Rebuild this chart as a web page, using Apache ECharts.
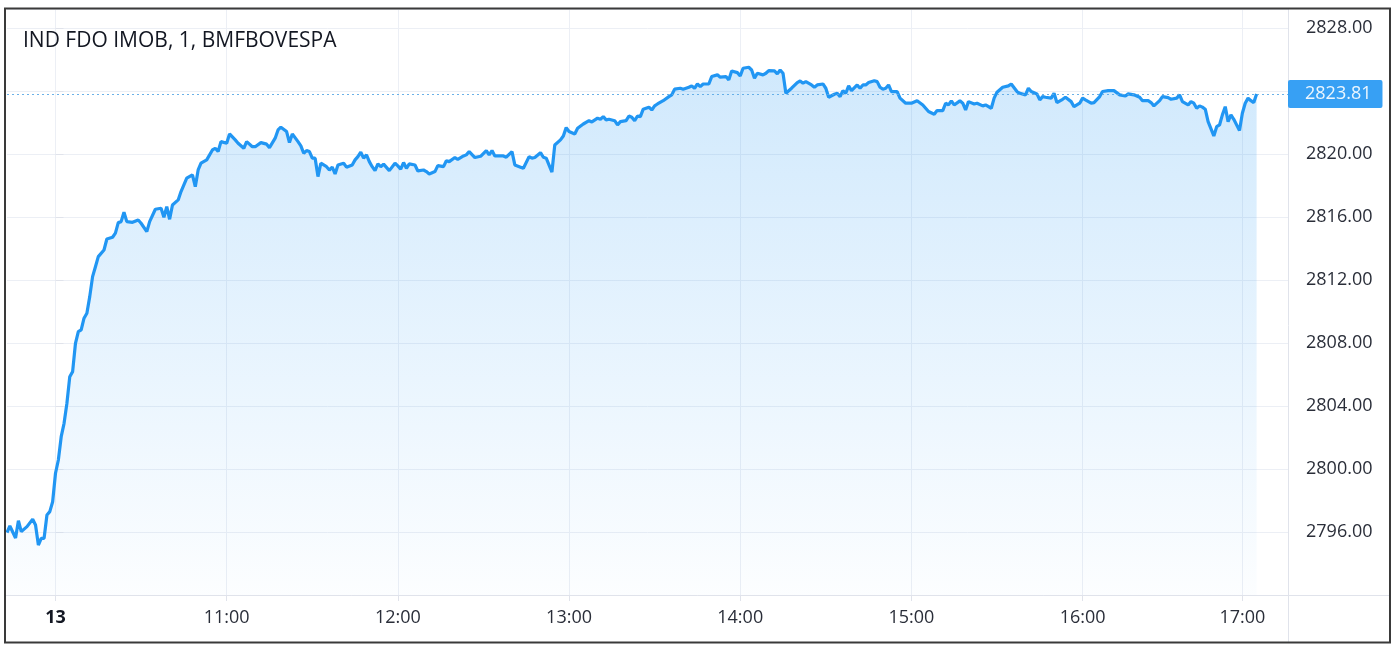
<!DOCTYPE html>
<html>
<head>
<meta charset="utf-8">
<style>
html,body{margin:0;padding:0;background:#fff;}
#chart{width:1395px;height:649px;}
</style>
<script src="https://cdn.jsdelivr.net/npm/echarts@6/dist/echarts.min.js"></script>
</head>
<body>
<div id="chart"></div>
<script>
const chartTitle = 'IND FDO IMOB, 1, BMFBOVESPA';

// x = minute bar index (0 = 10:00 on the 13th)
const xTickBars = [0, 60, 120, 180, 240, 300, 360, 416];
const xTickLabels = ['13', '11:00', '12:00', '13:00', '14:00', '15:00', '16:00', '17:00'];

const barIndex = [
-17,-16,-14,-13,-12,-10,-8,-7,-6,-5,-4,-3,-2,-1,
0,1,2,3,4,5,6,7,8,9,10,11,12,13,14,15,17,18,20,21,22,23,24,25,27,29,30,32,33,35,37,38,39,40,41,43,44,46,48,49,
50,51,53,55,56,57,58,60,61,63,64,66,67,69,70,72,74,75,77,78,79,81,82,83,85,86,87,88,89,90,91,92,93,95,96,97,98,99,
101,102,104,105,106,107,108,109,110,111,112,113,114,115,117,119,120,121,122,123,124,126,127,129,130,131,133,134,136,137,138,140,141,143,144,145,147,149,
151,152,153,154,157,158,160,161,163,164,166,167,168,170,171,172,174,175,177,178,179,180,182,183,185,187,188,190,191,192,193,194,196,197,198,
200,201,202,203,204,205,206,208,209,210,211,213,215,216,217,219,220,222,223,224,225,226,227,229,230,232,233,235,236,237,239,240,241,243,244,245,246,248,249,
250,252,253,254,255,256,258,260,261,262,263,265,266,267,269,270,271,273,274,275,276,277,278,279,281,282,283,284,285,287,288,289,290,291,292,293,295,296,298,
300,302,304,305,306,308,309,311,312,313,314,315,317,318,319,320,322,323,325,326,328,329,330,332,334,335,337,338,340,341,342,344,345,346,347,349,
350,351,353,354,356,357,359,360,361,363,364,366,367,369,371,373,375,376,378,380,381,383,384,385,387,388,390,391,393,394,395,397,398,399,
400,401,402,403,404,406,407,408,409,410,411,412,413,415,416,417,418,419,420,421
];

const closeValues = [
2795.96,2796.38,2795.62,2796.72,2796.02,2796.34,2796.81,2796.44,2795.17,2795.60,2795.60,2797.08,2797.29,2797.92,
2799.73,2800.57,2802.05,2802.90,2804.17,2805.86,2806.18,2807.98,2808.72,2808.83,2809.57,2809.89,2810.94,2812.21,2812.84,2813.48,2813.90,2814.60,2814.71,2814.97,2815.64,2815.70,2816.30,2815.70,2815.66,2815.81,2815.60,2815.07,2815.70,2816.49,2816.55,2815.98,2816.65,2815.85,2816.76,2817.08,2817.61,2818.46,2818.67,2817.92,
2818.98,2819.41,2819.62,2820.25,2820.36,2820.15,2820.78,2820.68,2821.27,2820.89,2820.68,2820.36,2820.78,2820.46,2820.46,2820.72,2820.62,2820.40,2821.00,2821.52,2821.70,2821.42,2820.72,2821.27,2820.78,2820.51,2820.04,2820.21,2820.15,2819.73,2819.73,2818.56,2819.41,2819.19,2818.98,2819.16,2818.73,2819.30,
2819.41,2819.16,2819.30,2819.62,2819.83,2820.11,2819.73,2819.94,2819.51,2819.19,2818.94,2819.37,2819.19,2819.35,2818.94,2819.41,2819.24,2819.03,2819.45,2819.09,2819.37,2819.30,2818.92,2818.98,2818.88,2818.73,2818.88,2819.26,2819.19,2819.57,2819.51,2819.77,2819.66,2819.87,2819.94,2820.15,2819.77,2819.85,
2820.21,2819.94,2820.21,2819.87,2819.87,2819.79,2820.15,2819.30,2819.16,2819.09,2819.83,2819.73,2819.77,2820.08,2819.79,2819.73,2818.84,2820.57,2820.89,2821.14,2821.67,2821.42,2821.27,2821.63,2821.90,2822.11,2822.03,2822.27,2822.20,2822.37,2822.16,2822.20,2822.11,2821.84,2822.05,
2822.11,2822.41,2822.33,2822.11,2822.41,2822.37,2822.84,2822.97,2822.79,2823.05,2823.17,2823.38,2823.64,2823.75,2824.11,2824.17,2824.11,2824.23,2824.32,2824.17,2824.44,2824.27,2824.44,2824.44,2824.91,2825.02,2824.87,2824.91,2824.70,2825.27,2825.16,2824.95,2825.44,2825.50,2825.33,2824.81,2825.12,2825.02,2825.12,
2825.29,2825.27,2825.08,2825.33,2825.12,2823.85,2824.17,2824.53,2824.63,2824.49,2824.59,2824.38,2824.23,2824.38,2824.44,2824.17,2823.60,2823.79,2823.85,2823.64,2824.02,2823.85,2824.32,2824.02,2824.38,2824.17,2824.38,2824.38,2824.53,2824.65,2824.59,2824.23,2824.11,2824.17,2824.38,2823.96,2823.96,2823.54,2823.22,
2823.22,2823.38,2823.11,2822.90,2822.69,2822.52,2822.75,2822.75,2823.22,2823.11,2823.37,2823.11,2823.37,2823.22,2822.79,2823.32,2823.17,2823.22,2823.05,2823.11,2822.90,2823.54,2823.92,2824.23,2824.32,2824.44,2823.96,2823.85,2823.75,2824.17,2823.96,2823.81,2823.43,2823.64,2823.60,2823.54,
2823.85,2823.26,2823.47,2823.60,2823.32,2823.00,2823.22,2823.54,2823.43,2823.22,2823.26,2823.64,2823.96,2824.02,2824.02,2823.75,2823.68,2823.81,2823.75,2823.60,2823.38,2823.38,2823.26,2823.05,2823.38,2823.64,2823.57,2823.47,2823.54,2823.75,2823.32,2823.11,2823.32,2823.22,
2822.90,2823.05,2822.97,2822.84,2822.05,2821.14,2821.73,2821.84,2822.48,2823.00,2822.05,2822.48,2822.20,2821.48,2822.58,2823.22,2823.54,2823.38,2823.26,2823.81
];

const lastPrice = closeValues[closeValues.length - 1];
const seriesData = barIndex.map((b, i) => [b, closeValues[i]]);

const FONT = '"Open Sans", "Noto Sans", sans-serif';
const chart = echarts.init(document.getElementById('chart'), null, {renderer: 'canvas'});

chart.setOption({
  animation: false,
  backgroundColor: '#ffffff',
  title: {
    text: chartTitle,
    left: 18,
    top: 26,
    textStyle: {fontFamily: FONT, fontSize: 21, fontWeight: 500, color: '#131722'}
  },
  grid: {left: 7, right: 107, top: 9, bottom: 54, containLabel: false},
  xAxis: {
    type: 'value',
    min: -17,
    max: 432,
    axisLine: {show: false},
    axisTick: {show: true, length: 6, customValues: xTickBars, lineStyle: {color: '#e0e3eb'}},
    axisLabel: {
      customValues: xTickBars,
      margin: 14,
      fontFamily: FONT,
      fontSize: 18,
      color: '#2a2e39',
      formatter: function (v) {
        const i = xTickBars.indexOf(v);
        if (i < 0) return '';
        return i === 0 ? '{b|' + xTickLabels[i] + '}' : xTickLabels[i];
      },
      rich: {b: {fontFamily: FONT, fontSize: 18, fontWeight: 'bold', color: '#131722'}}
    },
    splitLine: {show: true, lineStyle: {color: '#eceff5', width: 1}}
  },
  yAxis: {
    type: 'value',
    position: 'right',
    min: 2792,
    max: 2829.2,
    interval: 4,
    axisLine: {show: false},
    axisTick: {show: true, length: 8, lineStyle: {color: '#e0e3eb'}},
    axisLabel: {
      margin: 18,
      fontFamily: FONT,
      fontSize: 18,
      color: '#2a2e39',
      showMinLabel: false,
      showMaxLabel: false,
      formatter: function (v) {
        if (Math.abs(v - lastPrice) < 1.5) return '';
        return v.toFixed(2);
      }
    },
    splitLine: {show: true, lineStyle: {color: '#eceff5', width: 1}}
  },
  graphic: [
    {type: 'line', shape: {x1: 5, y1: 595.5, x2: 1390, y2: 595.5}, style: {stroke: '#e0e3eb', lineWidth: 1}, z: 5},
    {type: 'line', shape: {x1: 1288.5, y1: 8, x2: 1288.5, y2: 643}, style: {stroke: '#e0e3eb', lineWidth: 1}, z: 5},
    {type: 'rect', shape: {x: 5, y: 8.5, width: 1385, height: 634}, style: {fill: 'none', stroke: '#3a3a3a', lineWidth: 2}, z: 10}
  ],
  series: [{
    type: 'line',
    data: seriesData,
    showSymbol: false,
    symbol: 'none',
    lineStyle: {color: '#2196f3', width: 3.2},
    itemStyle: {color: '#2196f3'},
    areaStyle: {
      color: new echarts.graphic.LinearGradient(0, 0, 0, 1, [
        {offset: 0, color: 'rgba(33,150,243,0.30)'},
        {offset: 1, color: 'rgba(33,150,243,0.02)'}
      ])
    },
    markLine: {
      silent: true,
      symbol: 'none',
      animation: false,
      data: [{yAxis: lastPrice}],
      lineStyle: {color: '#5aa9e6', type: [2, 3], width: 1, opacity: 0.9},
      label: {
        show: true,
        position: 'end',
        distance: 0,
        formatter: lastPrice.toFixed(2),
        backgroundColor: '#2196f3',
        color: '#ffffff',
        fontFamily: FONT,
        fontSize: 18,
        padding: [5, 11, 5, 17],
        borderRadius: 2
      }
    }
  }]
});
</script>
</body>
</html>
